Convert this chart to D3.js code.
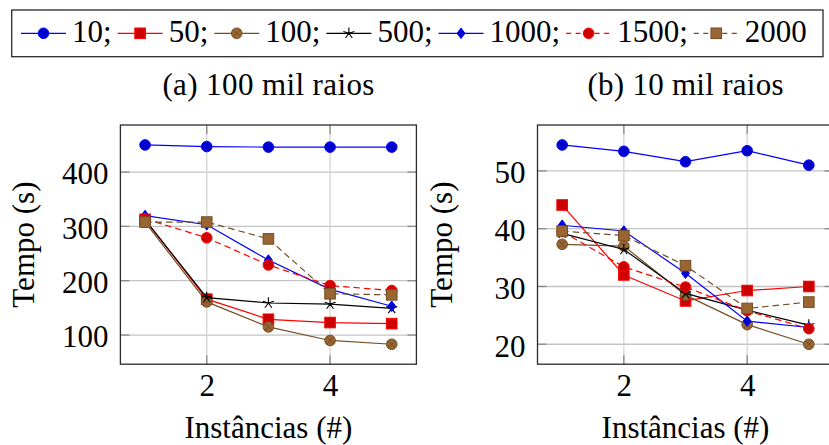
<!DOCTYPE html>
<html>
<head>
<meta charset="utf-8">
<script src="https://cdnjs.cloudflare.com/ajax/libs/d3/7.8.5/d3.min.js"></script>
<style>
body { margin: 0; background: #fff; }
svg text { font-family: "Liberation Serif", "DejaVu Serif", serif; }
</style>
</head>
<body>
<svg id="chart" width="829" height="445"></svg>
<script>
// data
var instancias = [1, 2, 3, 4, 5];
var seriesNames = ["10", "50", "100", "500", "1000", "1500", "2000"];

// (a) 100 mil raios, one row per series (same order as seriesNames)
var tempoA = [
    [450, 447, 446, 446, 446],
    [313, 166, 129, 123, 121],
    [308, 161, 115, 90, 83],
    [312, 169, 159, 157, 149],
    [320, 303, 238, 184, 153],
    [314, 279, 229, 191, 182],
    [308, 308, 277, 176, 174]
];

// (b) 10 mil raios
var tempoB = [
    [54.5, 53.4, 51.6, 53.5, 51.0],
    [44.1, 32.0, 27.5, 29.3, 30.0],
    [37.3, 37.0, 28.5, 23.4, 20.0],
    [39.2, 36.4, 28.8, 25.9, 23.3],
    [40.6, 39.6, 32.3, 24.0, 22.9],
    [39.5, 33.4, 29.9, 25.8, 22.7],
    [39.6, 38.8, 33.6, 26.2, 27.3]
];

var xTicks = [2, 4];
var yTicksA = [100, 200, 300, 400];
var yTicksB = [20, 30, 40, 50];

// pgfplots default cycle list
var styles = [
    { color: "#0000ff", fill: "#0000cc", mark: "circle", dash: null },
    { color: "#ff0000", fill: "#cc0000", mark: "square", dash: null },
    { color: "#734d26", fill: "#996633", mark: "otimes", dash: null },
    { color: "#000000", fill: "none", mark: "star", dash: null },
    { color: "#0000ff", fill: "#0000cc", mark: "diamond", dash: null },
    { color: "#ff0000", fill: "#cc0000", mark: "circle", dash: "6.5,4" },
    { color: "#734d26", fill: "#996633", mark: "square", dash: "6.5,4" }
];

var svg = d3.select("#chart"),
    fontFamily = "'Liberation Serif', 'DejaVu Serif', serif",
    fontSize = 31,
    plotTop = 125,
    plotBottom = 364.2,
    plotWidth = 296,
    markR = 5.3;

var panels = [
    { left: 120.4, title: "(a) 100 mil raios", titleLen: 212, data: tempoA, yTicks: yTicksA },
    { left: 537.5, title: "(b) 10 mil raios", titleLen: 196, data: tempoB, yTicks: yTicksB }
];

// enlarge limits by 10% like pgfplots does
function padded(ext) {
    var d = (ext[1] - ext[0]) * 0.1;
    return [ext[0] - d, ext[1] + d];
}

function drawMark(g, st, cx, cy) {
    var r = markR;
    if (st.mark === "circle" || st.mark === "otimes") {
        g.append("circle")
            .attr("cx", cx).attr("cy", cy).attr("r", r)
            .attr("fill", st.fill).attr("stroke", st.color).attr("stroke-width", 1);
        if (st.mark === "otimes") {
            var k = r * 0.707;
            g.append("path")
                .attr("d", "M" + (cx - k) + "," + (cy - k) + "L" + (cx + k) + "," + (cy + k) +
                    "M" + (cx - k) + "," + (cy + k) + "L" + (cx + k) + "," + (cy - k))
                .attr("stroke", st.color).attr("stroke-width", 1).attr("fill", "none");
        }
    } else if (st.mark === "square") {
        g.append("rect")
            .attr("x", cx - r).attr("y", cy - r).attr("width", 2 * r).attr("height", 2 * r)
            .attr("fill", st.fill).attr("stroke", st.color).attr("stroke-width", 1);
    } else if (st.mark === "diamond") {
        g.append("path")
            .attr("d", "M" + cx + "," + (cy - r) + "L" + (cx + 0.75 * r) + "," + cy +
                "L" + cx + "," + (cy + r) + "L" + (cx - 0.75 * r) + "," + cy + "Z")
            .attr("fill", st.fill).attr("stroke", st.color).attr("stroke-width", 1);
    } else if (st.mark === "star") {
        var p = "";
        for (var i = 0; i < 5; i++) {
            var a = -Math.PI / 2 + i * 2 * Math.PI / 5;
            p += "M" + cx + "," + cy + "L" + (cx + Math.cos(a) * r * 1.1) + "," + (cy + Math.sin(a) * r * 1.1);
        }
        g.append("path").attr("d", p)
            .attr("stroke", st.color).attr("stroke-width", 1.1).attr("fill", "none");
    }
}

panels.forEach(function (p) {
    var all = d3.merge(p.data);
    var x = d3.scaleLinear().domain(padded(d3.extent(instancias))).range([p.left, p.left + plotWidth]);
    var y = d3.scaleLinear().domain(padded(d3.extent(all))).range([plotBottom, plotTop]);

    var g = svg.append("g");

    // grid
    g.selectAll(".hgrid").data(p.yTicks).enter().append("line")
        .attr("x1", x.range()[0]).attr("x2", x.range()[1])
        .attr("y1", function (d) { return y(d); }).attr("y2", function (d) { return y(d); })
        .attr("stroke", "#c4c4c4").attr("stroke-width", 1.3);
    g.selectAll(".vgrid").data(xTicks).enter().append("line")
        .attr("y1", plotTop).attr("y2", plotBottom)
        .attr("x1", function (d) { return x(d); }).attr("x2", function (d) { return x(d); })
        .attr("stroke", "#d4d4d4").attr("stroke-width", 1.3);

    // tick marks on all four sides, pointing inward
    var tl = 9, tickCol = "#8a8a8a";
    p.yTicks.forEach(function (d) {
        [[x.range()[0], tl], [x.range()[1], -tl]].forEach(function (s) {
            g.append("line").attr("x1", s[0]).attr("x2", s[0] + s[1])
                .attr("y1", y(d)).attr("y2", y(d))
                .attr("stroke", tickCol).attr("stroke-width", 1.3);
        });
    });
    xTicks.forEach(function (d) {
        [[plotBottom, -tl], [plotTop, tl]].forEach(function (s) {
            g.append("line").attr("y1", s[0]).attr("y2", s[0] + s[1])
                .attr("x1", x(d)).attr("x2", x(d))
                .attr("stroke", tickCol).attr("stroke-width", 1.3);
        });
    });

    // axis labels through d3 axes
    var yAxis = g.append("g")
        .attr("transform", "translate(" + p.left + ",0)")
        .call(d3.axisLeft(y).tickValues(p.yTicks).tickFormat(d3.format("d")).tickSize(0).tickPadding(12));
    var xAxis = g.append("g")
        .attr("transform", "translate(0," + plotBottom + ")")
        .call(d3.axisBottom(x).tickValues(xTicks).tickFormat(d3.format("d")).tickSize(0).tickPadding(9.5));
    [yAxis, xAxis].forEach(function (a) {
        a.attr("font-family", null).attr("font-size", null);
        a.select(".domain").remove();
        a.selectAll("text")
            .style("font-family", fontFamily)
            .attr("font-size", fontSize)
            .attr("fill", "#000");
    });
    yAxis.selectAll("text").attr("dy", "0.38em");

    // series
    var line = d3.line()
        .x(function (d, i) { return x(instancias[i]); })
        .y(function (d) { return y(d); });

    p.data.forEach(function (vals, si) {
        var st = styles[si];
        var sg = g.append("g").attr("class", "series s" + seriesNames[si]);
        sg.append("path")
            .datum(vals)
            .attr("d", line)
            .attr("fill", "none")
            .attr("stroke", st.color)
            .attr("stroke-width", 1.2)
            .attr("stroke-dasharray", st.dash);
        vals.forEach(function (v, i) {
            drawMark(sg, st, x(instancias[i]), y(v));
        });
    });

    // axis box
    g.append("rect")
        .attr("x", p.left).attr("y", plotTop)
        .attr("width", plotWidth).attr("height", plotBottom - plotTop)
        .attr("fill", "none").attr("stroke", "#2a2a2a").attr("stroke-width", 1.3);

    // titles and labels
    var cx = p.left + plotWidth / 2;
    svg.append("text")
        .attr("x", cx).attr("y", 95)
        .attr("text-anchor", "middle")
        .attr("font-size", fontSize)
        .style("font-family", fontFamily)
        .attr("textLength", p.titleLen).attr("lengthAdjust", "spacing")
        .text(p.title);
    svg.append("text")
        .attr("x", cx).attr("y", 438)
        .attr("text-anchor", "middle")
        .attr("font-size", fontSize)
        .style("font-family", fontFamily)
        .text("Instâncias (#)");
    svg.append("text")
        .attr("transform", "translate(" + (p.left - 86) + "," + ((plotTop + plotBottom) / 2) + ") rotate(-90)")
        .attr("text-anchor", "middle")
        .attr("font-size", fontSize)
        .style("font-family", fontFamily)
        .text("Tempo (s)");
});

// legend
var legend = svg.append("g").attr("class", "legend");
legend.append("rect")
    .attr("x", 11.7).attr("y", 10).attr("width", 811.3).attr("height", 46.7)
    .attr("fill", "#fff").attr("stroke", "#2a2a2a").attr("stroke-width", 1.3);

var lx = 21, lineY = 33.3;
seriesNames.forEach(function (name, i) {
    var st = styles[i];
    legend.append("line")
        .attr("x1", lx).attr("x2", lx + 45)
        .attr("y1", lineY).attr("y2", lineY)
        .attr("stroke", st.color).attr("stroke-width", 1.2)
        .attr("stroke-dasharray", st.dash ? "5,4.5" : null);
    drawMark(legend, st, lx + 22.5, lineY);
    var t = legend.append("text")
        .attr("x", lx + 51).attr("y", 41.7)
        .attr("font-size", fontSize)
        .style("font-family", fontFamily)
        .text(name + (i < seriesNames.length - 1 ? ";" : ""));
    lx += 51 + t.node().getComputedTextLength() + 6;
});
</script>
</body>
</html>
